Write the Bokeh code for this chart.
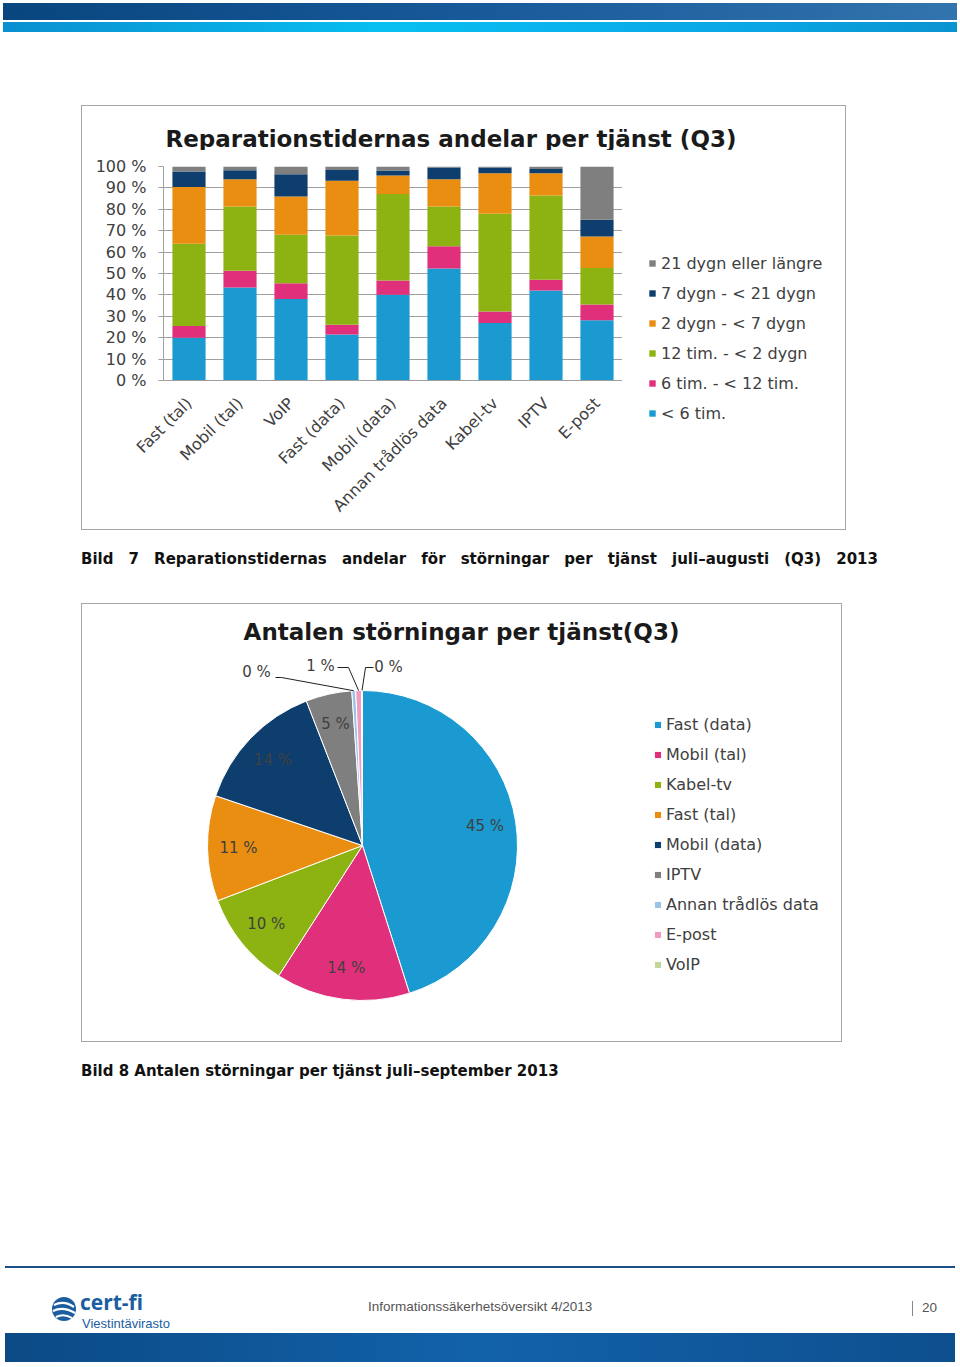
import math
from bokeh.plotting import figure
from bokeh.models import (Legend, LegendItem, Label, Div, Spacer, FixedTicker,
                          Range1d, ColumnDataSource)
from bokeh.layouts import column, row
from bokeh.embed import file_html
from bokeh.resources import INLINE
from bokeh.core.properties import value

FONT = "DejaVu Sans"

# ---------------- data: bar chart (share of repair times, %) ----------------
services_bar = ["Fast (tal)", "Mobil (tal)", "VoIP", "Fast (data)", "Mobil (data)",
                "Annan trådlös data", "Kabel-tv", "IPTV", "E-post"]
lt_6h = [20.0, 43.5, 38.1, 21.5, 40.1, 52.3, 26.9, 42.1, 28.1]
h6_12 = [5.5, 7.8, 7.3, 4.6, 6.6, 10.4, 5.4, 5.0, 7.4]
h12_2d = [38.4, 30.0, 22.7, 41.7, 40.4, 18.6, 45.6, 39.4, 17.1]
d2_7 = [26.5, 12.8, 17.9, 25.5, 8.7, 12.8, 19.0, 10.4, 14.7]
d7_21 = [7.3, 4.2, 10.4, 5.1, 2.3, 5.4, 2.6, 1.9, 7.8]
d21_plus = [2.3, 1.7, 3.6, 1.6, 1.9, 0.5, 0.5, 1.2, 24.9]
bar_series = ["< 6 tim.", "6 tim. - < 12 tim.", "12 tim. - < 2 dygn",
              "2 dygn - < 7 dygn", "7 dygn - < 21 dygn", "21 dygn eller längre"]
y_ticks = [0, 10, 20, 30, 40, 50, 60, 70, 80, 90, 100]
y_tick_labels = ["0 %", "10 %", "20 %", "30 %", "40 %", "50 %", "60 %", "70 %", "80 %", "90 %", "100 %"]

# ---------------- data: pie chart (number of incidents, %) ----------------
services_pie = ["Fast (data)", "Mobil (tal)", "Kabel-tv", "Fast (tal)", "Mobil (data)",
                "IPTV", "Annan trådlös data", "E-post", "VoIP"]
pie_share = [45.1, 14.0, 10.1, 11.0, 13.9, 4.8, 0.4, 0.6, 0.1]

bar_colors = ["#1a9ad0", "#e0307b", "#8db312", "#e98e10", "#0d3e6d", "#7f7f7f"]
pie_colors = ["#1a9ad0", "#e0307b", "#8db312", "#e98e10", "#0d3e6d", "#7f7f7f",
              "#9cc3e5", "#f29bc0", "#c4d79b"]
TXT = "#404040"
BOX = {"outline": "1px solid #a6a6a6", "outline-offset": "-1px"}


def blank(fig):
    fig.outline_line_color = None
    fig.background_fill_alpha = 0
    fig.border_fill_alpha = 0
    fig.xgrid.grid_line_color = None
    fig.ygrid.grid_line_color = None


# ================= bar chart =================
# title strip
pt = figure(width=765, height=45, x_range=Range1d(0, 765), y_range=Range1d(0, 45),
            x_axis_type=None, y_axis_type=None, output_backend="svg", toolbar_location=None,
            min_border=0)
blank(pt)
pt.add_layout(Label(x=84, y=12, text="Reparationstidernas andelar per tjänst (Q3)", text_align="left",
                    text_baseline="middle", text_font=FONT, text_font_size="23px",
                    text_font_style="bold", text_color="#1a1a1a"))

keys = ["k0", "k1", "k2", "k3", "k4", "k5"]
src = ColumnDataSource(dict(cat=services_bar, k0=lt_6h, k1=h6_12, k2=h12_2d,
                            k3=d2_7, k4=d7_21, k5=d21_plus))
p = figure(width=541, height=380, x_range=services_bar, y_range=Range1d(0, 100),
           output_backend="svg", toolbar_location=None,
           min_border_left=82, min_border_right=0, min_border_top=16, min_border_bottom=150)
rs = p.vbar_stack(keys, x="cat", width=0.65, color=bar_colors, source=src, line_color=None)
blank(p)
p.ygrid.grid_line_color = "#a0a0a0"
p.ygrid.grid_line_width = 1
p.yaxis.ticker = FixedTicker(ticks=y_ticks)
p.yaxis.major_label_overrides = {t: l for t, l in zip(y_ticks, y_tick_labels)}
p.yaxis.minor_tick_line_color = None
p.yaxis.major_tick_line_color = "#a0a0a0"
p.yaxis.major_tick_out = 5
p.yaxis.major_tick_in = 0
p.yaxis.axis_line_color = "#a0a0a0"
p.yaxis.major_label_standoff = 12
p.xaxis.axis_line_color = "#a0a0a0"
p.xaxis.major_tick_line_color = None
p.xaxis.major_label_orientation = math.pi / 4
p.xaxis.major_label_standoff = 14
for ax in (p.xaxis, p.yaxis):
    ax.major_label_text_font = FONT
    ax.major_label_text_font_size = "16px"
    ax.major_label_text_color = TXT

# legend panel (same series colours, legend keys only; zero-height key bars)
pl = figure(width=224, height=380, x_range=Range1d(0, 224), y_range=Range1d(0, 380),
            x_axis_type=None, y_axis_type=None, output_backend="svg", toolbar_location=None,
            min_border=0)
blank(pl)
key_src = ColumnDataSource(dict(x=[0], top=[0]))
leg_r = [pl.vbar(x="x", top="top", width=1, source=key_src, fill_color=c, line_color=None)
         for c in bar_colors]
items = [LegendItem(label=bar_series[i], renderers=[leg_r[i]]) for i in range(5, -1, -1)]
leg = Legend(items=items, location=(26, 107), orientation="vertical",
             glyph_width=8, glyph_height=8, label_height=20, spacing=10, label_standoff=5,
             padding=0, margin=0, border_line_color=None, background_fill_alpha=0,
             label_text_font=FONT, label_text_font_size="16px", label_text_color=TXT)
pl.add_layout(leg)

bar_box = column(pt, row(p, column(pl, margin=0, spacing=0), margin=0, spacing=0),
                 margin=0, spacing=0, styles=BOX)

# ================= pie chart =================
W2, H2 = 761, 439
cx, cy, R = 281, 197, 155
p2 = figure(width=W2, height=H2, x_range=Range1d(0, W2), y_range=Range1d(0, H2),
            x_axis_type=None, y_axis_type=None, output_backend="svg", toolbar_location=None,
            min_border=0)
p2.styles = BOX
blank(p2)

total = sum(pie_share)
starts, ends, mids = [], [], []
acc = 0.0
for v in pie_share:
    a0 = math.pi / 2 - 2 * math.pi * acc / total
    acc += v
    a1 = math.pi / 2 - 2 * math.pi * acc / total
    starts.append(a0)
    ends.append(a1)
    mids.append((a0 + a1) / 2)
labels_pie = [f"{round(v):.0f} %" for v in pie_share]
src2 = ColumnDataSource(dict(name=services_pie, share=pie_share, start=starts, end=ends,
                             color=pie_colors, lab=labels_pie))
wr = p2.wedge(x=cx, y=cy, radius=R, start_angle="start", end_angle="end", direction="clock",
              fill_color="color", line_color="white", line_width=1, source=src2)

big = [i for i, v in enumerate(pie_share) if v >= 2]
lx = [cx + 0.8 * R * math.cos(mids[i]) for i in big]
ly = [cy + 0.8 * R * math.sin(mids[i]) for i in big]
p2.text(x=lx, y=ly, text=[labels_pie[i] for i in big], text_align="center",
        text_baseline="middle", text_font=value(FONT), text_font_size="15px", text_color=TXT)

# small slices: labels with leader lines
small = [i for i, v in enumerate(pie_share) if v < 2]
small_lab_pos = [(175, 371), (239, 377), (307, 376)]
lead_start = [(194, 365), (256, 375), (292, 375)]
lead_mid = [(200, 365), (267, 375), (284, 375)]
for k, i in enumerate(small):
    ex = cx + R * math.cos(mids[i])
    ey = cy + R * math.sin(mids[i])
    tx, ty = small_lab_pos[k]
    p2.add_layout(Label(x=tx, y=ty, text=labels_pie[i], text_align="center", text_baseline="middle",
                        text_font=FONT, text_font_size="15px", text_color=TXT))
    p2.line(x=[lead_start[k][0], lead_mid[k][0], ex], y=[lead_start[k][1], lead_mid[k][1], ey],
            line_color="#202020", line_width=1)

p2.add_layout(Label(x=380, y=411, text="Antalen störningar per tjänst(Q3)", text_align="center",
                    text_baseline="middle", text_font=FONT, text_font_size="23px",
                    text_font_style="bold", text_color="#1a1a1a"))

items2 = [LegendItem(label=services_pie[i], renderers=[wr], index=i) for i in range(len(services_pie))]
leg2 = Legend(items=items2, location=(572, 68), orientation="vertical",
              glyph_width=9, glyph_height=9, label_height=20, spacing=10, label_standoff=4,
              padding=0, margin=0, border_line_color=None, background_fill_alpha=0,
              label_text_font=FONT, label_text_font_size="16px", label_text_color=TXT)
p2.add_layout(leg2)

# ================= page decoration =================
header = Div(width=960, height=105, margin=0, text="""
<div style="position:relative;width:960px;height:105px;">
 <div style="position:absolute;left:3px;top:3px;width:954px;height:17px;
   background:linear-gradient(to right,#08467e,#18599a 50%,#3274ad);"></div>
 <div style="position:absolute;left:3px;top:22px;width:954px;height:10px;
   background:linear-gradient(to right,#0a8fd0,#08bff2 40%,#0aa5e3 80%,#0a93d0);"></div>
</div>""")

cap1 = Div(width=960, height=73, margin=0, text="""
<div style="position:relative;width:960px;height:73px;">
<div style="position:absolute;left:81px;top:19px;width:797px;font-family:'DejaVu Sans';font-weight:bold;
 font-size:15px;color:#111;white-space:nowrap;display:flex;justify-content:space-between;">
<span>Bild</span><span>7</span><span>Reparationstidernas</span><span>andelar</span><span>för</span>
<span>störningar</span><span>per</span><span>tjänst</span><span>juli–augusti</span><span>(Q3)</span><span>2013</span>
</div></div>""")

logo_svg = """<svg width="26" height="26" viewBox="0 0 26 26">
<circle cx="13" cy="13" r="12" fill="#1a5ea0"/>
<path d="M3 9 Q13 4 23 11" stroke="white" stroke-width="2.2" fill="none"/>
<path d="M2 15 Q12 10 24 17" stroke="white" stroke-width="2.2" fill="none"/>
<path d="M5 21 Q13 17 21 22" stroke="white" stroke-width="2" fill="none"/>
</svg>"""

NARROW = "'Liberation Sans Narrow','Liberation Sans'"
footer = Div(width=960, height=324, margin=0, text=f"""
<div style="position:relative;width:960px;height:324px;font-family:'DejaVu Sans';">
 <div style="position:absolute;left:81px;top:19px;font-weight:bold;font-size:15px;color:#111;white-space:nowrap;">
  Bild 8 Antalen störningar per tjänst juli–september 2013</div>
 <div style="position:absolute;left:5px;top:224px;width:950px;height:2px;background:#1b4f86;"></div>
 <div style="position:absolute;left:51px;top:254px;">{logo_svg}</div>
 <div style="position:absolute;left:80px;top:250px;font-family:'Open Sans';font-weight:bold;font-size:21px;line-height:20px;color:#1a5ea0;">cert-fi</div>
 <div style="position:absolute;left:82px;top:275px;font-family:{NARROW};font-size:13px;line-height:13px;color:#1a5ea0;">Viestintävirasto</div>
 <div style="position:absolute;left:368px;top:258px;font-family:{NARROW};font-size:13.5px;line-height:14px;color:#555;white-space:nowrap;">Informationssäkerhetsöversikt 4/2013</div>
 <div style="position:absolute;left:912px;top:259px;width:1px;height:15px;background:#888;"></div>
 <div style="position:absolute;left:922px;top:259px;font-family:{NARROW};font-size:13.5px;line-height:14px;color:#555;">20</div>
 <div style="position:absolute;left:5px;top:291px;width:950px;height:29px;
   background:linear-gradient(to right,#0b4a85,#1262aa 50%,#0e4f8e);"></div>
</div>""")

layout = column(header,
                row(Spacer(width=81, height=425, margin=0), bar_box, margin=0),
                cap1,
                row(Spacer(width=81, height=439, margin=0), p2, margin=0),
                footer, margin=0, spacing=0)

open("out.html", "w").write(file_html(layout, INLINE))
